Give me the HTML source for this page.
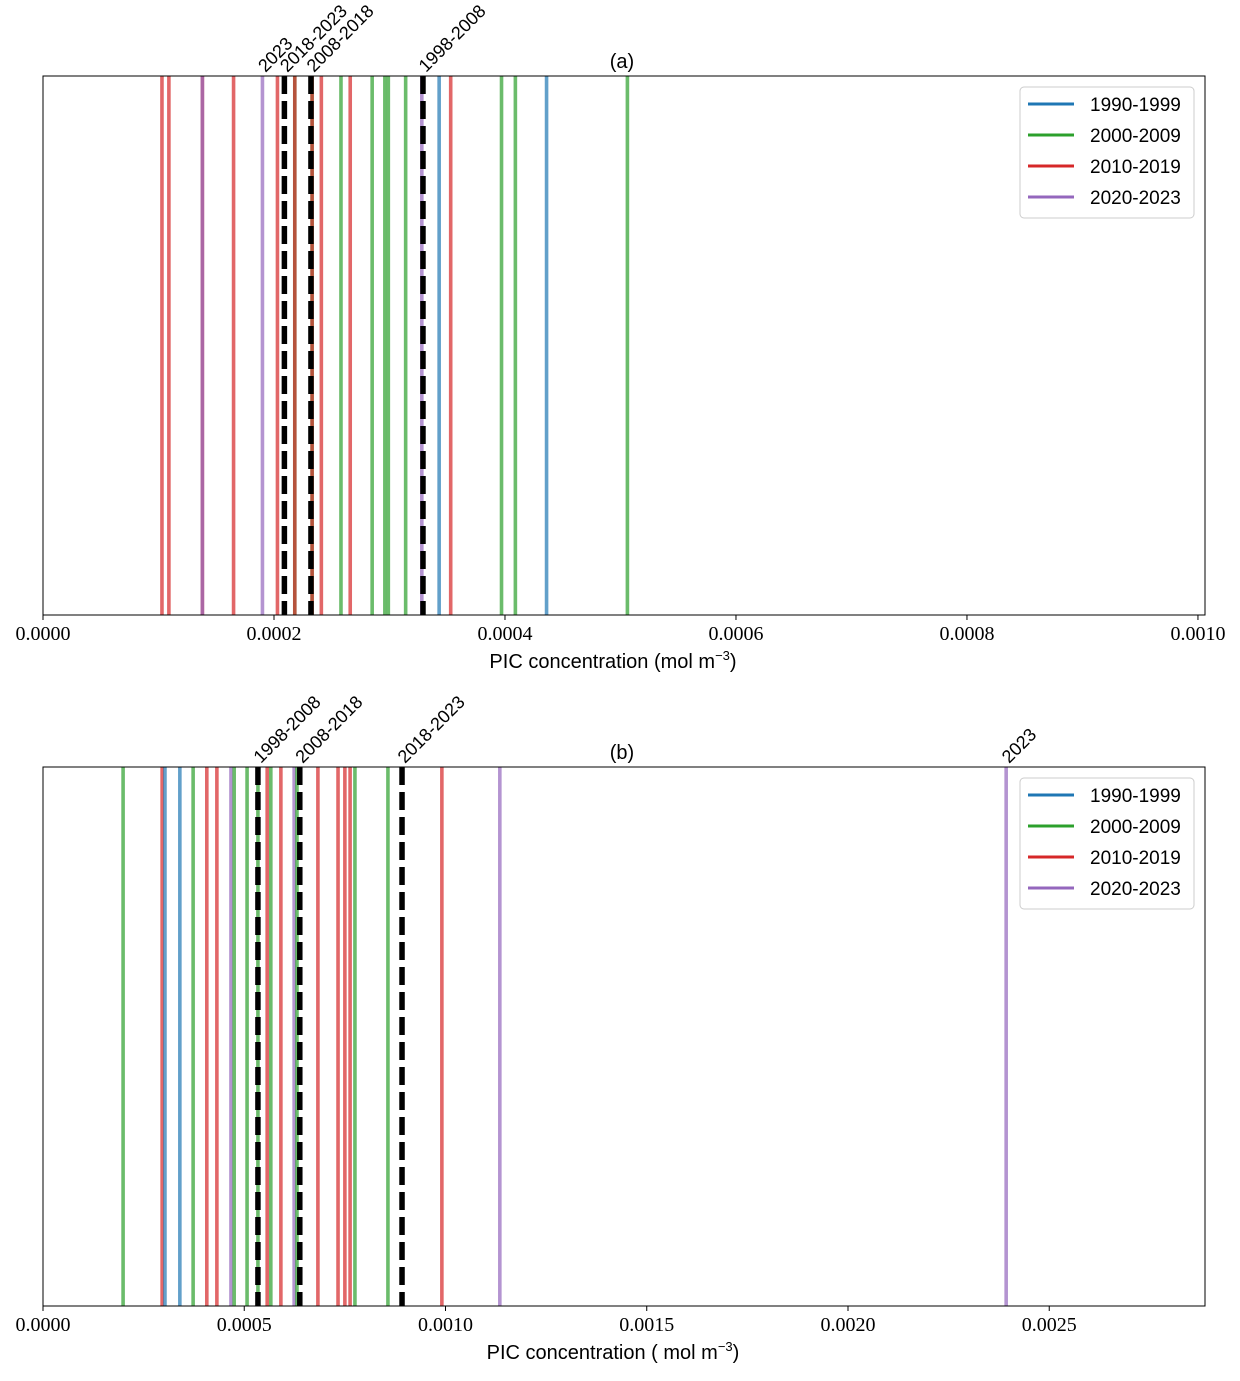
<!DOCTYPE html>
<html><head><meta charset="utf-8"><style>
body{margin:0;background:#fff;}
svg text{font-family:"Liberation Sans",sans-serif;}
.tick{font-family:"Liberation Serif",serif;font-size:20px;}
</style></head><body>
<svg id="chart" width="1240" height="1376" xmlns="http://www.w3.org/2000/svg"></svg>
<script>
const decades = ["1990-1999","2000-2009","2010-2019","2020-2023"];
const colorsSolid = ["#1f77b4","#2ca02c","#d62728","#9467bd"];
// panel a
const aValues = [0.000103,0.000109,0.000138,0.000138,0.000165,0.000190,0.000203,0.000218,0.000218,0.000233,0.000233,0.000241,0.000258,0.000266,0.000285,0.000296,0.000299,0.000314,0.000328,0.000343,0.000353,0.000397,0.000409,0.000436,0.000506];
const aDecade = [2,2,2,3,2,3,2,1,2,1,2,2,1,2,1,1,1,1,3,0,2,1,1,0,1];
const aRefValues = [0.000209,0.000232,0.000329];
const aRefLabels = ["2018-2023","2008-2018","1998-2008"];
const aYearValue = 0.000190;
const aTicks = [0,0.0002,0.0004,0.0006,0.0008,0.0010];
const aTickLabels = ["0.0000","0.0002","0.0004","0.0006","0.0008","0.0010"];
// panel b
const bValues = [0.000199,0.000296,0.000303,0.000340,0.000373,0.000407,0.000432,0.000467,0.000475,0.000507,0.000534,0.000557,0.000566,0.000591,0.000624,0.000631,0.000683,0.000733,0.000750,0.000763,0.000775,0.000857,0.000991,0.001135,0.002393];
const bDecade = [1,2,0,0,1,2,2,3,1,1,1,2,1,2,3,1,2,2,2,2,1,1,2,3,3];
const bRefValues = [0.000534,0.000638,0.000892];
const bRefLabels = ["1998-2008","2008-2018","2018-2023"];
const bYearValue = 0.002393;
const bTicks = [0,0.0005,0.0010,0.0015,0.0020,0.0025];
const bTickLabels = ["0.0000","0.0005","0.0010","0.0015","0.0020","0.0025"];

const NS="http://www.w3.org/2000/svg";
const svg=document.getElementById('chart');
function mk(tag,attrs,parent,text){const e=document.createElementNS(NS,tag);for(const k in attrs)e.setAttribute(k,attrs[k]);if(text!==undefined)e.textContent=text;(parent||svg).appendChild(e);return e;}

function panel(p){
  const L=43,R=1205,T=p.top,B=p.top+539;
  const x=v=>L+(v-0)/(p.xmax)*(R-L);
  const g=mk('g',{});
  
  
  p.values.forEach((v,i)=>{
    const l=mk('line',{x1:x(v),x2:x(v),y1:T,y2:B,stroke:colorsSolid[p.dec[i]],'stroke-opacity':0.7,'stroke-width':3.6},g);
    
    
  });
  p.refs.forEach((v,i)=>{
    const l=mk('line',{x1:x(v),x2:x(v),y1:T,y2:B,stroke:'#000','stroke-width':5.5,'stroke-dasharray':'18 7'},g);
    
    
    const t=mk('text',{x:0,y:0,'font-size':18,transform:`translate(${x(v)+3},${T-3}) rotate(-45)`},g,p.refLabels[i]);
    
    
  });
  const yt=mk('text',{x:0,y:0,'font-size':18,transform:`translate(${x(p.year)+3},${T-3}) rotate(-45)`},g,'2023');
  
  
  const fr=mk('rect',{x:L,y:T,width:R-L,height:B-T,fill:'none',stroke:'#000','stroke-width':1},g);
  
  
  p.ticks.forEach((v,i)=>{
    mk('line',{x1:x(v),x2:x(v),y1:B,y2:B+5,stroke:'#000'},g);
    const t=mk('text',{x:x(v),y:B+25,'text-anchor':'middle',class:'tick'},g,p.tickLabels[i]);
    
    
  });
  const ti=mk('text',{x:622,y:T-8,'text-anchor':'middle','font-size':20},g,p.title);
  
  
  const xl=mk('text',{x:613,y:B+53,'text-anchor':'middle','font-size':20},g);
  
  
  xl.innerHTML=p.xlabel+'m<tspan dy="-8" font-size="13">−3</tspan><tspan dy="8">)</tspan>';
  const lg=mk('g',{},g);
  
  
  mk('rect',{x:1020,y:T+11,width:174,height:131,rx:4,fill:'#fff',stroke:'#ccc'},lg);
  decades.forEach((d,i)=>{
    const yy=T+28+i*31;
    const e=mk('g',{},lg);
    
    
    mk('line',{x1:1028,x2:1074,y1:yy,y2:yy,stroke:colorsSolid[i],'stroke-width':3},e);
    mk('text',{x:1090,y:yy+7,'font-size':19},e,d);
  });
}
panel({name:'a',top:76,xmax:0.0010061,values:aValues,dec:aDecade,refs:aRefValues,refLabels:aRefLabels,year:aYearValue,ticks:aTicks,tickLabels:aTickLabels,title:'(a)',xlabel:'PIC concentration (mol '});
panel({name:'b',top:767,xmax:0.0028870,values:bValues,dec:bDecade,refs:bRefValues,refLabels:bRefLabels,year:bYearValue,ticks:bTicks,tickLabels:bTickLabels,title:'(b)',xlabel:'PIC concentration ( mol '});
</script>
</body></html>
